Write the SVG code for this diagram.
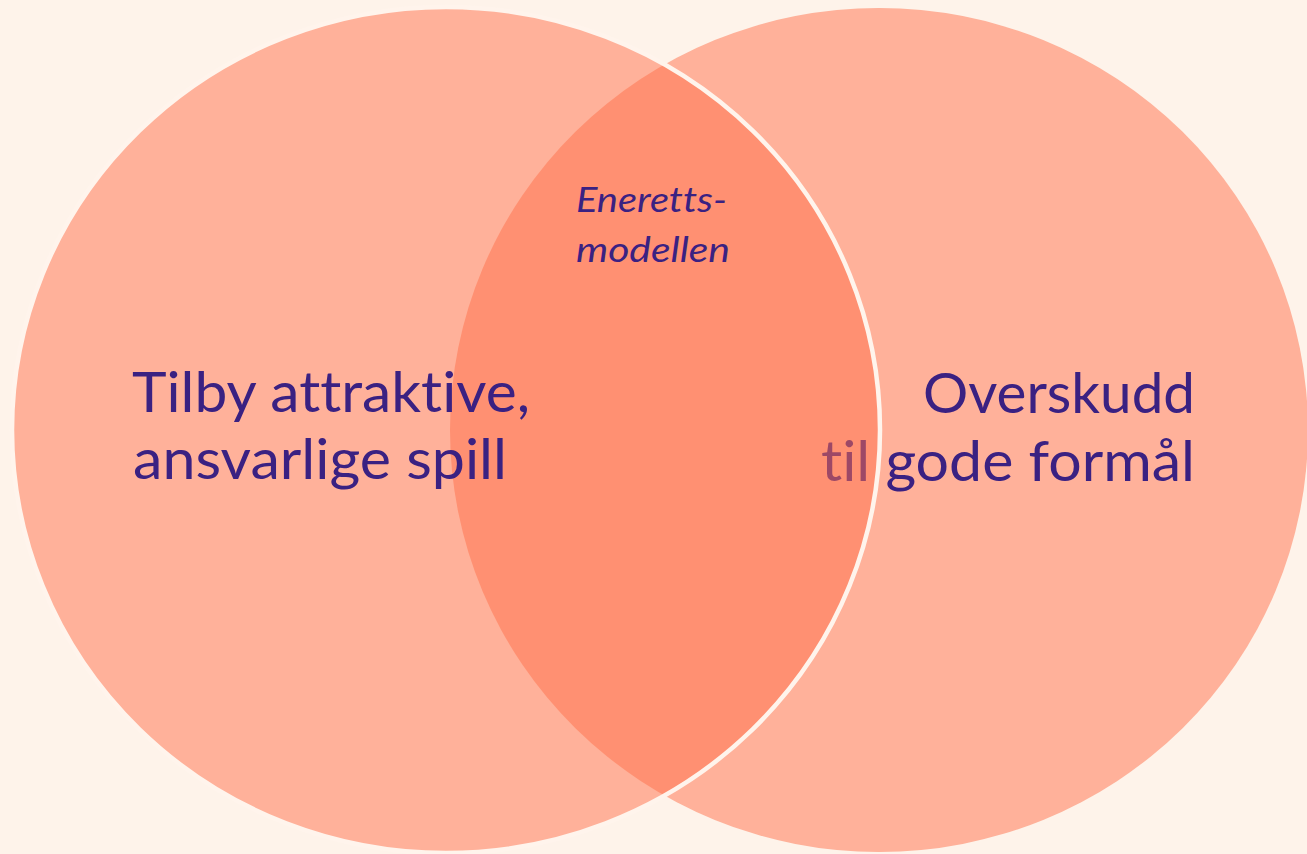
<svg xmlns="http://www.w3.org/2000/svg" width="1307" height="854" viewBox="0 0 1307 854">
  <style>
    .set { fill: #FF6F4A; fill-opacity: 0.5; }
    .edge { stroke: #FFF4EC; stroke-width: 4.5; }
    text { font-family: Lato, "Open Sans", sans-serif; fill: #3A2182; font-variant-ligatures: none; font-feature-settings: "liga" 0, "dlig" 0; }
    .big { font-size: 57px; }
    .small { font-size: 34px; font-style: italic; }
  </style>
  <rect width="1307" height="854" fill="#FEF3EA"/>
  <g id="set-right">
    <ellipse class="set" cx="879" cy="430" rx="429" ry="422"/>
    <text class="big" text-anchor="end" x="1195" y="413" textLength="272" lengthAdjust="spacingAndGlyphs">Overskudd</text>
    <text class="big" text-anchor="end" x="1195" y="481" textLength="374" lengthAdjust="spacingAndGlyphs">til gode formål</text>
  </g>
  <g id="set-left">
    <ellipse class="set edge" cx="446" cy="430" rx="434" ry="423"/>
    <text class="big" x="132" y="412" textLength="398" lengthAdjust="spacingAndGlyphs">Tilby attraktive,</text>
    <text class="big" x="133" y="479" textLength="374" lengthAdjust="spacingAndGlyphs">ansvarlige spill</text>
  </g>
  <g id="overlap">
    <text class="small" x="576" y="212" textLength="151" lengthAdjust="spacingAndGlyphs">Eneretts-</text>
    <text class="small" x="576" y="262" textLength="154" lengthAdjust="spacingAndGlyphs">modellen</text>
  </g>
  <g id="connectors"/>
</svg>
